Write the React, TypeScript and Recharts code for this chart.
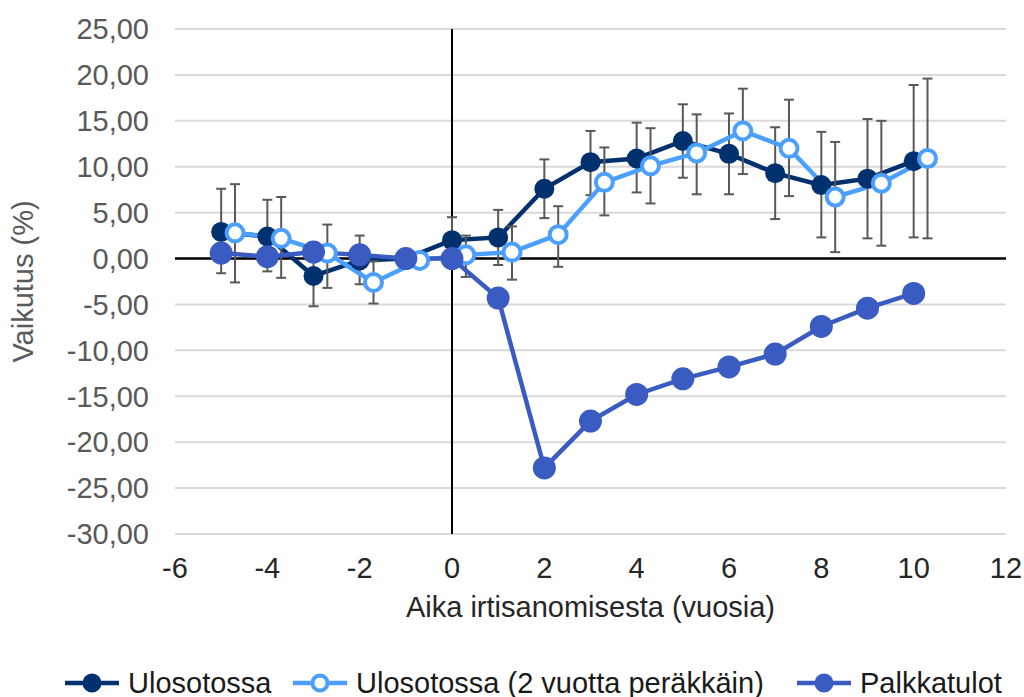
import React from 'react';
import {
  ComposedChart, Line, XAxis, YAxis, CartesianGrid, ReferenceLine, ErrorBar, Label,
} from 'recharts';

const DARK = '#00306E';
const LIGHT = '#4BA0FF';
const MID = '#3A5BC1';

// Ulosotossa
const darkX = [-5, -4, -3, -2, -1, 0, 1, 2, 3, 4, 5, 6, 7, 8, 9, 10];
const darkVal = [2.9, 2.4, -1.9, -0.2, 0.0, 2.0, 2.3, 7.6, 10.5, 10.9, 12.8, 11.4, 9.3, 8.0, 8.7, 10.6];
const darkLow = [-1.6, -1.4, -5.2, -2.8, -0.8, -0.4, -0.7, 4.4, 6.9, 7.2, 8.8, 7.0, 4.3, 2.3, 2.2, 2.3];
const darkHigh = [7.6, 6.4, 1.4, 2.5, 0.8, 4.5, 5.3, 10.8, 13.9, 14.8, 16.8, 15.8, 14.3, 13.8, 15.2, 18.9];

// Ulosotossa (2 vuotta peräkkäin)
const lightX = [-4.7, -3.7, -2.7, -1.7, -0.7, 0.3, 1.3, 2.3, 3.3, 4.3, 5.3, 6.3, 7.3, 8.3, 9.3, 10.3];
const lightVal = [2.8, 2.2, 0.6, -2.6, -0.2, 0.4, 0.7, 2.6, 8.3, 10.1, 11.5, 13.9, 12.0, 6.7, 8.2, 10.9];
const lightLow = [-2.6, -2.1, -3.2, -4.9, -0.9, -2.0, -2.3, -0.9, 4.7, 6.0, 7.0, 9.2, 6.8, 0.7, 1.4, 2.2];
const lightHigh = [8.1, 6.7, 3.7, -0.3, 0.5, 2.5, 3.5, 5.7, 12.1, 14.2, 15.7, 18.5, 17.3, 12.7, 15.0, 19.6];

// Palkkatulot
const midX = [-5, -4, -3, -2, -1, 0, 1, 2, 3, 4, 5, 6, 7, 8, 9, 10];
const midVal = [0.6, 0.2, 0.7, 0.4, 0.0, 0.0, -4.3, -22.8, -17.7, -14.8, -13.1, -11.8, -10.4, -7.4, -5.4, -3.8];

const xTicks = [-6, -4, -2, 0, 2, 4, 6, 8, 10, 12];
const yTicks = [-30, -25, -20, -15, -10, -5, 0, 5, 10, 15, 20, 25];

const seriesNames = ['Ulosotossa', 'Ulosotossa (2 vuotta peräkkäin)', 'Palkkatulot'];
const xTitle = 'Aika irtisanomisesta (vuosia)';
const yTitle = 'Vaikutus (%)';

const darkData = darkX.map((x, i) => ({ x, y: darkVal[i], err: [darkVal[i] - darkLow[i], darkHigh[i] - darkVal[i]] }));
const lightData = lightX.map((x, i) => ({ x, y: lightVal[i], err: [lightVal[i] - lightLow[i], lightHigh[i] - lightVal[i]] }));
const midData = midX.map((x, i) => ({ x, y: midVal[i] }));

const FONT = '"Liberation Sans", Arial, sans-serif';
const FS = 29;
const fmt = (v: number) => v.toFixed(2).replace('.', ',');

const LegendIcon = ({ color, hollow }: { color: string; hollow?: boolean }) => (
  <svg width={54} height={24} style={{ display: 'block' }}>
    <line x1={0} y1={12} x2={54} y2={12} stroke={color} strokeWidth={4.5} />
    {hollow ? (
      <circle cx={27} cy={12} r={7.5} fill="#fff" stroke={color} strokeWidth={4} />
    ) : (
      <circle cx={27} cy={12} r={9.5} fill={color} />
    )}
  </svg>
);

const legendLefts = [65, 293, 797];

export default function App() {
  const colors = [DARK, LIGHT, MID];
  return (
    <div style={{ position: 'absolute', left: 0, top: 0, width: 1024, height: 697, background: '#fff', fontFamily: FONT }}>
      <ComposedChart
        width={1024}
        height={697}
        margin={{ top: 29, right: 18, left: 0, bottom: 123 }}
      >
        <CartesianGrid horizontal vertical={false} stroke="#d9d9d9" strokeWidth={2} />
        <XAxis
          type="number"
          dataKey="x"
          domain={[-6, 12]}
          ticks={xTicks}
          axisLine={false}
          tickLine={false}
          tickSize={0}
          tickMargin={23}
          height={40}
          tick={{ fill: '#262626', fontSize: FS, fontFamily: FONT }}
          allowDuplicatedCategory={false}
        >
          <Label value={xTitle} position="bottom" offset={22} style={{ fill: '#262626', fontSize: FS, fontFamily: FONT }} />
        </XAxis>
        <YAxis
          type="number"
          domain={[-30, 25]}
          ticks={yTicks}
          axisLine={false}
          tickLine={false}
          tickSize={0}
          tickMargin={26}
          width={175}
          tickFormatter={fmt}
          tick={{ fill: '#595959', fontSize: FS, fontFamily: FONT }}
        >
          <Label
            content={() => (
              <text
                x={0}
                y={0}
                transform="translate(23, 281.5) rotate(-90)"
                textAnchor="middle"
                dominantBaseline="central"
                fill="#595959"
                fontSize={FS}
                fontFamily={FONT}
              >
                {yTitle}
              </text>
            )}
          />
        </YAxis>
        <ReferenceLine y={0} stroke="#000" strokeWidth={2.5} />
        <ReferenceLine x={0} stroke="#000" strokeWidth={2} />
        <Line
          data={darkData}
          dataKey="y"
          name={seriesNames[0]}
          stroke={DARK}
          strokeWidth={4.5}
          dot={{ r: 10, fill: DARK, stroke: DARK, strokeWidth: 0 }}
          isAnimationActive={false}
        >
          <ErrorBar dataKey="err" direction="y" width={5} stroke="#595959" strokeWidth={2} />
        </Line>
        <Line
          data={lightData}
          dataKey="y"
          name={seriesNames[1]}
          stroke={LIGHT}
          strokeWidth={4.5}
          dot={{ r: 8.5, fill: '#fff', stroke: LIGHT, strokeWidth: 4 }}
          isAnimationActive={false}
        >
          <ErrorBar dataKey="err" direction="y" width={5} stroke="#595959" strokeWidth={2} />
        </Line>
        <Line
          data={midData}
          dataKey="y"
          name={seriesNames[2]}
          stroke={MID}
          strokeWidth={4.5}
          dot={{ r: 11.5, fill: MID, stroke: MID, strokeWidth: 0 }}
          isAnimationActive={false}
        />
      </ComposedChart>
      {seriesNames.map((n, i) => (
        <div
          key={n}
          style={{
            position: 'absolute',
            left: legendLefts[i],
            top: 667,
            display: 'flex',
            alignItems: 'center',
            fontSize: FS,
            color: '#1a1a1a',
            fontFamily: FONT,
            whiteSpace: 'nowrap',
          }}
        >
          <LegendIcon color={colors[i]} hollow={i === 1} />
          <span style={{ marginLeft: 9, lineHeight: '32px' }}>{n}</span>
        </div>
      ))}
    </div>
  );
}
